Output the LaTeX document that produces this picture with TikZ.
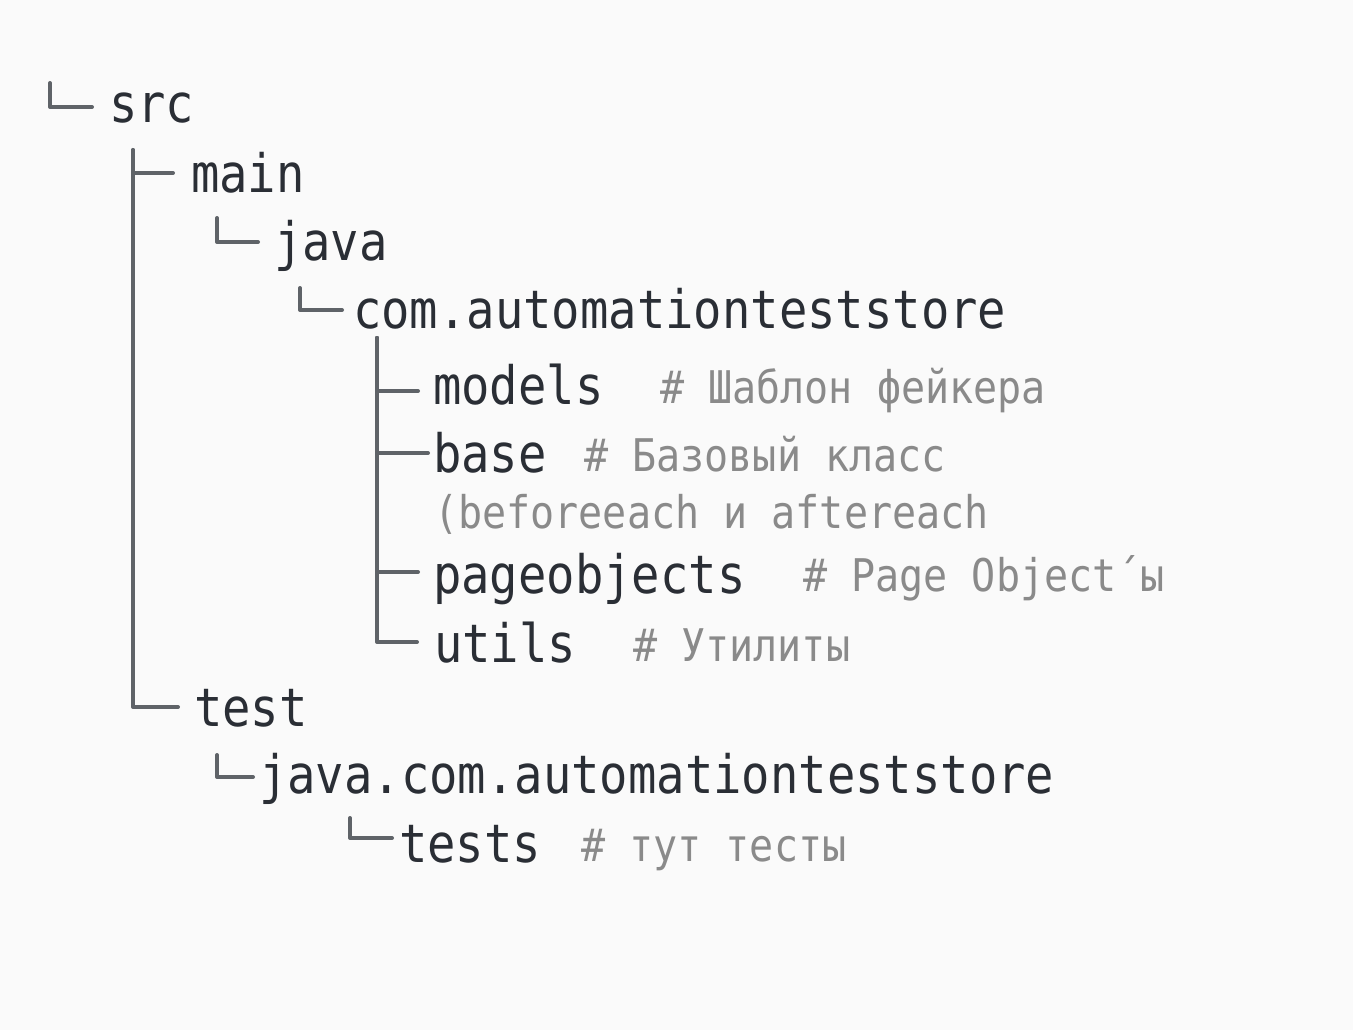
\documentclass[tikz,border=0pt]{standalone}
\usepackage{fontspec}
\newfontfamily\treefont[FakeStretch=0.89]{DejaVu Sans Mono}
\definecolor{itemfg}{HTML}{2A2E35}
\definecolor{notefg}{HTML}{8A8A8A}
\definecolor{linefg}{HTML}{5F6368}
\begin{document}
\begin{tikzpicture}[x=1pt,y=-1pt,
  item/.style={anchor=base west,inner sep=0pt,text=itemfg,font=\treefont\fontsize{53}{60}\selectfont},
  note/.style={anchor=base west,inner sep=0pt,text=notefg,font=\treefont\fontsize{45}{52}\selectfont},
  branch/.style={draw=linefg,line width=4pt,line cap=round,line join=round}]
\fill[white!98!black] (0,0) rectangle (1353,1030);
\useasboundingbox (0,0) rectangle (1353,1030);
% folders
\node(src) at (109,123) [item] {src};
\node(main) at (191,193) [item] {main};
\node(java) at (274,260) [item] {java};
\node(pkg) at (353,328) [item] {com.automationteststore};
\node(models) at (433,404) [item] {models};
\node(base) at (433,472) [item] {base};
\node(pageobj) at (433,593) [item] {pageobjects};
\node(utils) at (434,662) [item] {utils};
\node(test) at (194,726) [item] {test};
\node(testpkg) at (259,793) [item] {java.com.automationteststore};
\node(tests) at (399,862) [item] {tests};
% comments
\node(modelsnote) at (660,403) [note] {\# Шаблон фейкера};
\node(basenote) at (584,471) [note] {\# Базовый класс};
\node(basenote2) at (434,528) [note] {(beforeeach и aftereach};
\node(pageobjnote) at (803,591) [note] {\# Page Object´ы};
\node(utilsnote) at (633,661) [note] {\# Утилиты};
\node(testsnote) at (581,861) [note] {\# тут тесты};
% tree lines
\coordinate(srctop) at (50,83);
\coordinate(maintop) at (133,150);
\coordinate(javatop) at (217,218);
\coordinate(pkgtop) at (300,288);
\coordinate(itemtop) at (377,338);
\coordinate(testpkgtop) at (217,755);
\coordinate(teststop) at (350,818);
\draw[branch,shorten >=17pt] (srctop) |- ([yshift=16pt]src.base west);
\draw[branch,shorten >=18pt] (maintop) |- ([yshift=20pt]main.base west);
\draw[branch,shorten >=16pt] (maintop) |- ([yshift=19pt]test.base west);
\draw[branch,shorten >=16pt] (javatop) |- ([yshift=18pt]java.base west);
\draw[branch,shorten >=11pt] (pkgtop) |- ([yshift=18pt]pkg.base west);
\draw[branch,shorten >=15pt] (itemtop) |- ([yshift=13pt]models.base west);
\draw[branch,shorten >=5pt] (itemtop) |- ([yshift=19pt]base.base west);
\draw[branch,shorten >=15pt] (itemtop) |- ([yshift=21pt]pageobj.base west);
\draw[branch,shorten >=17pt] (itemtop) |- ([yshift=20pt]utils.base west);
\draw[branch,shorten >=6pt] (testpkgtop) |- ([yshift=16pt]testpkg.base west);
\draw[branch,shorten >=7pt] (teststop) |- ([yshift=24pt]tests.base west);
\end{tikzpicture}
\end{document}
